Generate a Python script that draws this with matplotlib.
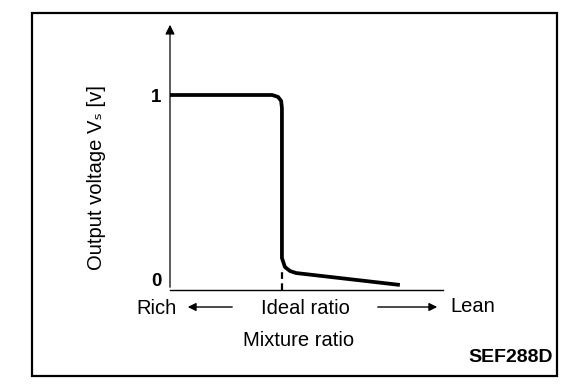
import matplotlib
matplotlib.use('Agg')
import matplotlib.pyplot as plt
from matplotlib.patches import Rectangle, FancyArrowPatch

plt.rcParams['font.family'] = ['Liberation Sans', 'DejaVu Sans']

# sensor curve (x = mixture ratio, arbitrary units; y = output voltage)
mixture = [0.0, 3.74, 3.96, 4.07, 4.10, 4.10, 4.21, 4.40, 4.62, 8.42]
voltage = [1.0, 1.0, 0.99, 0.97, 0.933, 0.164, 0.118, 0.097, 0.087, 0.026]
idealX = 4.10
yTicks = [0, 1]
yTickLabels = ['0', '1']

W, H = 576, 386
fig = plt.figure(figsize=(W / 100, H / 100), dpi=100)

# axes placed from pixel extents of the reference
axL, axR, axB, axT = 170, 443, 290, 22
ax = fig.add_axes([axL / W, 1 - axB / H, (axR - axL) / W, (axB - axT) / H])
yTop = (axB - axT) / 195.0
ax.set_xlim(0, 10)
ax.set_ylim(0, yTop)
for s in ax.spines.values():
	s.set_visible(False)
ax.patch.set_alpha(0)

ax.plot(mixture, voltage, color='black', lw=2.7, solid_capstyle='butt', solid_joinstyle='round', clip_on=False)
ax.plot([idealX, idealX], [0, 0.09], color='black', lw=1.6, ls=(0, (3, 2)), clip_on=False)

# axes lines
ax.plot([0, 10], [0, 0], color='black', lw=1.0, clip_on=False)
ax.annotate('', xy=(0, yTop), xytext=(0, 0), xycoords='data',
	arrowprops=dict(arrowstyle='-|>', color='black', lw=0.9, mutation_scale=14), annotation_clip=False)

ax.set_xticks([])
ax.set_yticks(yTicks)
ax.set_yticklabels(yTickLabels, fontsize=13.5, fontweight='bold')
ax.tick_params(axis='y', length=0, pad=6)
ax.get_yticklabels()[0].set_verticalalignment('bottom')

fs = 14.5
fig.text(97 / W, 1 - 178 / H, 'Output voltage V\u209b [v]', rotation=90, ha='center', va='center', fontsize=fs)
fig.text(156 / W, 1 - 309 / H, 'Rich', ha='center', va='center', fontsize=fs)
fig.text(305 / W, 1 - 309 / H, 'Ideal ratio', ha='center', va='center', fontsize=fs)
fig.text(473 / W, 1 - 306 / H, 'Lean', ha='center', va='center', fontsize=fs)
fig.text(299 / W, 1 - 340 / H, 'Mixture ratio', ha='center', va='center', fontsize=fs)
fig.text(553 / W, 1 - 357 / H, 'SEF288D', ha='right', va='center', fontsize=14, fontweight='bold')

for x0, x1 in [(235, 185), (375, 440)]:
	fig.add_artist(FancyArrowPatch((x0 / W, 1 - 307 / H), (x1 / W, 1 - 307 / H),
		transform=fig.transFigure, arrowstyle='-|>', mutation_scale=12, color='black', lw=1.0))

fig.add_artist(Rectangle((32 / W, 1 - 376 / H), (557 - 32) / W, (376 - 13) / H, transform=fig.transFigure,
	fill=False, edgecolor='black', lw=1.6))

fig.savefig('out.png', dpi=100)
